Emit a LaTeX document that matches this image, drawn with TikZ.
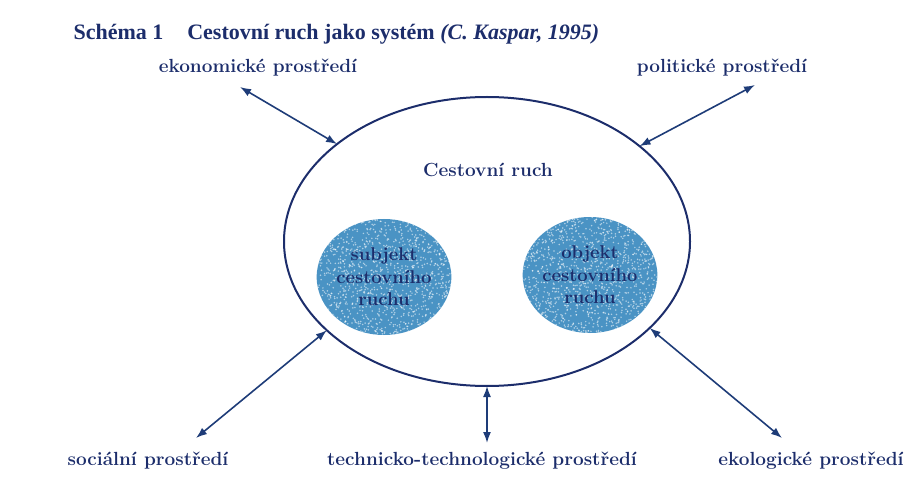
\documentclass[tikz,border=0pt]{standalone}
\usepackage{fontspec}
\newfontfamily\titlefont{Liberation Serif}
\usetikzlibrary{shapes.geometric,arrows.meta}
\definecolor{navy}{HTML}{1C2D6B}
\definecolor{linkblue}{HTML}{1E3C78}
\definecolor{blobblue}{HTML}{4A93C4}

\begin{document}
\begin{tikzpicture}[x=1pt,y=1pt,
    lbl/.style={text=navy,font=\fontsize{19}{23}\selectfont\bfseries,anchor=base},
    blob/.style={ellipse,fill=blobblue,minimum width=134pt,minimum height=116pt,
      inner sep=0pt,text=navy,align=center,font=\fontsize{18.5}{22.5}\selectfont\bfseries,
      path picture={\foreach \k in {1,...,1300}
        \fill[white,opacity=.55] ([shift={(rand*67,rand*58)}]path picture bounding box.center) circle (.85);}},
    link/.style={linkblue,line width=1.6pt,{Latex[length=11pt,width=8pt]}-{Latex[length=11pt,width=8pt]}}]
  \pgfmathsetseed{7}
  \useasboundingbox (0,0) rectangle (920,485);
  \node[text=navy,anchor=base west,font=\fontsize{22}{26}\selectfont\titlefont\bfseries] (title) at (70,445)
    {Schéma 1\hspace{24pt}Cestovní ruch jako systém \textit{(C. Kaspar, 1995)}};
  \node[ellipse,draw=navy,line width=2pt,minimum width=406pt,minimum height=289pt,
    inner sep=0pt,outer sep=0pt] (ruch) at (487,243.5) {};
  \node[lbl,anchor=center] (ruchtext) at (488,315) {Cestovní ruch};
  \node[blob] (subjekt) at (384,208) {subjekt\\cestovního\\ruchu};
  \node[blob] (objekt) at (590,210) {objekt\\cestovního\\ruchu};
  \node[lbl] (eko) at (258,412) {ekonomické prostředí};
  \node[lbl] (pol) at (722,412) {politické prostředí};
  \node[lbl] (soc) at (148,20) {sociální prostředí};
  \node[lbl] (tech) at (482,20) {technicko-technologické prostředí};
  \node[lbl] (ekol) at (811,20) {ekologické prostředí};
  \coordinate (ekoEnd) at (240,398);
  \coordinate (polEnd) at (755,400);
  \coordinate (socEnd) at (196,47);
  \coordinate (techEnd) at (487,42);
  \coordinate (ekolEnd) at (782,47);
  \draw[link] (ekoEnd) -- (ruch.147);
  \draw[link] (polEnd) -- (ruch.32);
  \draw[link] (socEnd) -- (ruch.209);
  \draw[link] (techEnd) -- (ruch.270);
  \draw[link] (ekolEnd) -- (ruch.332);
\end{tikzpicture}
\end{document}
